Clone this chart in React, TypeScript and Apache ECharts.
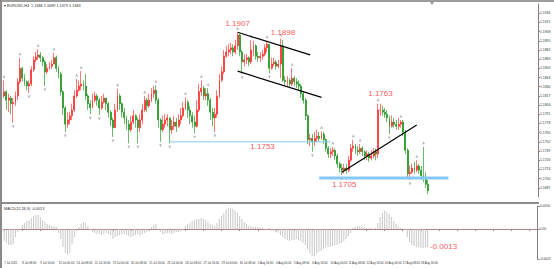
import React, { useEffect, useRef } from "react";
import * as echarts from "echarts";

// ---- price data (H4 candles), open of each bar = previous close ----
const firstOpen = 1.1817;
const closes = [
  1.1823,1.1811,1.1814,1.1806,1.1808,1.1817,1.1837,1.1856,1.1842,1.1837,
  1.1831,1.1834,1.1854,1.1868,1.1872,1.1875,1.1871,1.1865,1.1851,1.1856,
  1.1859,1.1862,1.1871,1.1856,1.1848,1.1823,1.1800,1.1777,1.1783,1.1789,
  1.1797,1.1817,1.1825,1.1831,1.1834,1.1831,1.1817,1.1806,1.1800,1.1811,
  1.1817,1.1811,1.1800,1.1808,1.1814,1.1806,1.1794,1.1783,1.1772,1.1797,
  1.1817,1.1806,1.1794,1.1786,1.1777,1.1769,1.1780,1.1789,1.1783,1.1772,
  1.1783,1.1797,1.1811,1.1803,1.1811,1.1820,1.1825,1.1811,1.1783,1.1769,
  1.1777,1.1783,1.1786,1.1769,1.1774,1.1780,1.1774,1.1783,1.1789,1.1800,
  1.1808,1.1797,1.1789,1.1780,1.1774,1.1797,1.1823,1.1828,1.1817,1.1820,
  1.1811,1.1794,1.1786,1.1791,1.1817,1.1839,1.1851,1.1873,1.1879,1.1882,
  1.1885,1.1879,1.1888,1.1903,1.1879,1.1865,1.1868,1.1871,1.1865,1.1882,
  1.1888,1.1873,1.1871,1.1873,1.1876,1.1885,1.1890,1.1856,1.1862,1.1865,
  1.1859,1.1862,1.1888,1.1839,1.1837,1.1839,1.1834,1.1842,1.1837,1.1834,
  1.1831,1.1820,1.1811,1.1789,1.1755,1.1757,1.1752,1.1757,1.1760,1.1757,
  1.1763,1.1755,1.1743,1.1735,1.1738,1.1740,1.1732,1.1721,1.1715,1.1712,
  1.1715,1.1712,1.1726,1.1743,1.1746,1.1740,1.1738,1.1743,1.1738,1.1732,
  1.1735,1.1729,1.1732,1.1738,1.1735,1.1797,1.1797,1.1794,1.1791,1.1786,
  1.1774,1.1780,1.1777,1.1774,1.1777,1.1780,1.1766,1.1740,1.1707,1.1709,
  1.1715,1.1712,1.1718,1.1712,1.1704,1.1701,1.1692,1.1683,
];
const highs = [
  1.1839,1.1825,1.1820,1.1817,1.1814,1.1823,1.1842,1.1871,1.1858,1.1848,
  1.1839,1.1839,1.1859,1.1873,1.1879,1.1883,1.1879,1.1873,1.1868,1.1862,
  1.1865,1.1868,1.1878,1.1874,1.1859,1.1851,1.1825,1.1803,1.1794,1.1794,
  1.1806,1.1825,1.1841,1.1839,1.1852,1.1839,1.1848,1.1820,1.1811,1.1820,
  1.1823,1.1820,1.1814,1.1817,1.1820,1.1814,1.1808,1.1797,1.1786,1.1806,
  1.1827,1.1820,1.1808,1.1800,1.1789,1.1783,1.1789,1.1797,1.1791,1.1786,
  1.1791,1.1806,1.1817,1.1814,1.1820,1.1828,1.1831,1.1832,1.1814,1.1786,
  1.1789,1.1791,1.1791,1.1786,1.1783,1.1789,1.1786,1.1791,1.1800,1.1808,
  1.1815,1.1811,1.1803,1.1794,1.1789,1.1811,1.1834,1.1839,1.1831,1.1828,
  1.1828,1.1814,1.1800,1.1800,1.1825,1.1848,1.1859,1.1882,1.1888,1.1890,
  1.1892,1.1890,1.1896,1.1907,1.1905,1.1882,1.1876,1.1876,1.1873,1.1896,
  1.1895,1.1890,1.1879,1.1879,1.1882,1.1890,1.1895,1.1890,1.1871,1.1871,
  1.1868,1.1868,1.1898,1.1896,1.1845,1.1845,1.1842,1.1856,1.1845,1.1842,
  1.1839,1.1834,1.1823,1.1814,1.1791,1.1763,1.1763,1.1766,1.1769,1.1766,
  1.1767,1.1766,1.1757,1.1746,1.1743,1.1745,1.1743,1.1735,1.1724,1.1721,
  1.1721,1.1721,1.1732,1.1749,1.1755,1.1749,1.1746,1.1749,1.1746,1.1740,
  1.1740,1.1738,1.1740,1.1743,1.1743,1.1806,1.1806,1.1803,1.1800,1.1797,
  1.1789,1.1789,1.1786,1.1783,1.1786,1.1783,1.1783,1.1769,1.1743,1.1718,
  1.1721,1.1724,1.1726,1.1721,1.1718,1.1745,1.1709,1.1698,
];
const lows = [
  1.1814,1.1797,1.1794,1.1791,1.1779,1.1803,1.1811,1.1834,1.1837,1.1831,
  1.1825,1.1821,1.1831,1.1851,1.1865,1.1868,1.1865,1.1859,1.1831,1.1848,
  1.1854,1.1855,1.1862,1.1851,1.1842,1.1817,1.1790,1.1766,1.1772,1.1777,
  1.1783,1.1794,1.1814,1.1823,1.1825,1.1825,1.1811,1.1797,1.1791,1.1800,
  1.1808,1.1803,1.1790,1.1797,1.1806,1.1797,1.1786,1.1774,1.1759,1.1772,
  1.1794,1.1797,1.1786,1.1777,1.1769,1.1750,1.1766,1.1777,1.1772,1.1750,
  1.1766,1.1777,1.1794,1.1794,1.1800,1.1808,1.1814,1.1806,1.1772,1.1752,
  1.1766,1.1772,1.1774,1.1750,1.1763,1.1769,1.1766,1.1772,1.1777,1.1786,
  1.1797,1.1786,1.1777,1.1772,1.1764,1.1772,1.1794,1.1817,1.1811,1.1811,
  1.1803,1.1783,1.1774,1.1766,1.1786,1.1814,1.1837,1.1848,1.1871,1.1873,
  1.1876,1.1873,1.1876,1.1882,1.1873,1.1848,1.1859,1.1862,1.1859,1.1862,
  1.1873,1.1868,1.1865,1.1865,1.1868,1.1873,1.1879,1.1849,1.1854,1.1859,
  1.1854,1.1856,1.1842,1.1837,1.1831,1.1831,1.1828,1.1831,1.1831,1.1828,
  1.1825,1.1814,1.1806,1.1783,1.1749,1.1746,1.1738,1.1746,1.1752,1.1752,
  1.1755,1.1749,1.1738,1.1729,1.1729,1.1732,1.1726,1.1715,1.1709,1.1705,
  1.1707,1.1707,1.1709,1.1724,1.1738,1.1735,1.1732,1.1735,1.1732,1.1726,
  1.1726,1.1724,1.1726,1.1729,1.1726,1.1729,1.1789,1.1789,1.1786,1.1780,
  1.1763,1.1772,1.1772,1.1769,1.1769,1.1772,1.1760,1.1735,1.1701,1.1698,
  1.1707,1.1707,1.1709,1.1707,1.1698,1.1695,1.1687,1.1678,
];

// ---- oscillator histogram (MACD) ----
const osma = [
  -0.00084,-0.00098,-0.00112,-0.00112,-0.00105,-0.00056,-0.00021,0,
  0.00028,0.00042,0.00056,0.00063,0.00077,0.00091,0.00098,0.00098,0.00084,
  0.00063,0.00049,0.00035,0.00028,0.00021,0.00021,0.00014,-0.00028,-0.0007,
  -0.00126,-0.00168,-0.00182,-0.00168,-0.00105,-0.00056,-0.00014,0.00014,
  0.00035,0.00049,0.00042,0.00021,-0.00007,
  -0.00021,-0.00028,-0.00035,-0.00035,-0.00042,-0.00035,-0.00028,-0.00035,-0.00042,
  -0.0007,-0.00056,
  -0.00049,-0.00042,-0.00035,-0.00035,-0.00042,-0.00049,-0.00056,-0.00049,-0.00042,-0.00035,-0.00042,-0.00035,-0.00028,-0.00021,-0.00014,
  0.00014,0.00028,0.00035,
  -0.00007,-0.00021,-0.00035,-0.00035,-0.00028,-0.00028,-0.00035,-0.00028,-0.00021,-0.00021,-0.00014,-0.00007,
  0.00021,0.00035,0.00042,0.00056,0.00063,0.0007,0.0007,
  0.00077,0.0007,0.00063,0.00049,0.00035,0.00028,0.00021,
  0.00042,0.0007,0.00091,0.00112,0.00133,0.00147,0.00147,0.0014,0.00126,0.00112,
  0.00091,0.0007,0.00049,0.00035,0.00021,0.00021,
  0.00014,0.00014,0.00014,0.00007,0.00007,0,
  -0.00007,0.00007,-0.00014,-0.00014,-0.00021,
  -0.00028,-0.00042,-0.00056,-0.0007,-0.00077,
  -0.00084,-0.00077,-0.00077,-0.0007,-0.00077,
  -0.00084,-0.00098,-0.00112,-0.0014,-0.00168,-0.00189,-0.00189,
  -0.00175,-0.00161,-0.00154,-0.0014,-0.00133,-0.00126,
  -0.00126,-0.00119,-0.00112,-0.00112,-0.00105,
  -0.00098,-0.00084,-0.0007,-0.00049,-0.00028,
  0.00007,0.00014,0.00021,0.00021,0.00014,0.00014,
  0.00007,0.00007,0.00007,0,0.00007,
  0.00042,0.00084,0.00112,0.00126,0.00119,0.00105,
  0.00084,0.00056,0.00035,0.00021,0.00007,0,-0.00007,
  -0.00056,-0.00091,-0.00112,-0.00119,-0.00126,-0.00126,-0.00133,-0.00133,-0.00126,-0.00126,
];

// bar indices of fractal marks
const fractalUp = [0,7,15,22,32,34,50,62,67,80,87,90,103,109,116,122,127,140,145,154,157,165,175,182,185];
const fractalDown = [4,11,18,27,38,42,48,55,59,69,73,84,93,105,117,136,149,170,179];

const xTickLabels = [
  "7 Jul 2021","8 Jul 08:00","9 Jul 16:00","13 Jul 00:00","14 Jul 08:00","15 Jul 16:00",
  "19 Jul 00:00","20 Jul 08:00","21 Jul 16:00","23 Jul 00:00","26 Jul 08:00","27 Jul 16:00",
  "29 Jul 00:00","30 Jul 08:00","2 Aug 16:00","4 Aug 00:00","5 Aug 08:00","6 Aug 16:00",
  "10 Aug 00:00","11 Aug 08:00","12 Aug 16:00","16 Aug 00:00","17 Aug 08:00","18 Aug 16:00",
];
const totalSlots = 236; // bars + empty right shift
const priceMin = 1.1674;
const priceMax = 1.1947;
const priceStep = 0.0013;
const oscMin = -0.0021;
const oscMax = 0.0016;
const oscLabels = [-0.0021, 0, 0.0016];

// drawn objects: [barIndex, price]
const channelTop = [[103, 1.1907], [135, 1.1875]];
const channelBottom = [[103, 1.1852], [140, 1.1815]];
const supportLine = [[149, 1.1709], [182, 1.1776]];
const level1753 = [[73, 1.1752], [144, 1.1752]];
const level1705 = [[139, 1.1701], [196, 1.1701]];

const annIdx = [103, 123, 166, 114, 150];
const annPrice = [1.1919, 1.1906, 1.182, 1.1745, 1.1691];
const annText = ["1.1907", "1.1898", "1.1763", "1.1753", "1.1705"];
const oscAnnIdx = [194];
const oscAnnValue = [-0.00126];
const oscAnnText = ["-0.0013"];

const FONT = "'Liberation Sans', Arial, sans-serif";

function buildOption() {
  const cats = Array.from({ length: totalSlots }, (_, i) => String(i));
  const candles = closes.map((c, i) => {
    const o = i === 0 ? firstOpen : closes[i - 1];
    return [o, c, Math.min(lows[i], o, c), Math.max(highs[i], o, c)];
  });
  const lastClose = closes[closes.length - 1];
  const line = (data: number[][], color: string, width: number) => ({
    type: "line",
    xAxisIndex: 0,
    yAxisIndex: 0,
    data,
    showSymbol: false,
    symbol: "none",
    silent: true,
    lineStyle: { color, width },
    z: 5,
  });
  return {
    animation: false,
    backgroundColor: "#ffffff",
    textStyle: { fontFamily: FONT },
    grid: [
      { left: 3, right: 16, top: 4, height: 193 },
      { left: 3, right: 16, top: 206, height: 53 },
    ],
    xAxis: [
      {
        type: "category", gridIndex: 0, data: cats, boundaryGap: true,
        axisLine: { show: false }, axisTick: { show: false }, axisLabel: { show: false },
        splitLine: { show: false },
      },
      {
        type: "category", gridIndex: 1, data: cats, boundaryGap: true,
        axisLine: { show: true, lineStyle: { color: "#808080", width: 1 } },
        axisTick: { show: true, interval: 7, alignWithLabel: true, length: 2, lineStyle: { color: "#808080" } },
        axisLabel: {
          interval: 7, fontSize: 2.9, color: "#333", align: "left", margin: 2, fontFamily: FONT,
          formatter: (_v: string, idx: number) => xTickLabels[idx / 8] ?? "",
        },
        splitLine: { show: false },
      },
    ],
    yAxis: [
      {
        type: "value", gridIndex: 0, position: "right", min: priceMin, max: priceMax, interval: priceStep,
        axisLine: { show: true, lineStyle: { color: "#808080", width: 1 } },
        axisTick: { show: true, length: 2, lineStyle: { color: "#808080" } },
        axisLabel: {
          fontSize: 3.4, color: "#333", margin: 2, fontFamily: FONT,
          showMinLabel: false, showMaxLabel: false,
          formatter: (v: number) => v.toFixed(4),
        },
        splitLine: { show: false },
      },
      {
        type: "value", gridIndex: 1, position: "right", min: oscMin, max: oscMax,
        axisLine: { show: true, lineStyle: { color: "#808080", width: 1 } },
        axisTick: { show: true, length: 2, customValues: oscLabels, lineStyle: { color: "#808080" } },
        axisLabel: {
          fontSize: 3.4, color: "#333", margin: 2, fontFamily: FONT, customValues: oscLabels,
          formatter: (v: number) => (v === 0 ? "0.00" : v.toFixed(4)),
        },
        splitLine: { show: false },
      },
    ],
    series: [
      {
        type: "candlestick",
        xAxisIndex: 0, yAxisIndex: 0,
        data: candles,
        barWidth: 1.4,
        itemStyle: {
          color: "#ff1a1a", color0: "#0a8a0a",
          borderColor: "#ff1a1a", borderColor0: "#0a8a0a", borderWidth: 0.6,
        },
        markLine: {
          silent: true, symbol: "none",
          data: [{ yAxis: lastClose }],
          lineStyle: { opacity: 0 },
          label: {
            show: true, position: "end", distance: 1,
            formatter: lastClose.toFixed(4),
            backgroundColor: "#000", color: "#fff", fontSize: 3.4, padding: [1, 2], fontFamily: FONT,
          },
        },
      },
      {
        type: "scatter", xAxisIndex: 0, yAxisIndex: 0, silent: true,
        data: fractalUp.map((i) => [i, highs[i]]),
        symbol: "triangle", symbolSize: [3, 3], symbolOffset: [0, -4],
        itemStyle: { color: "#a8a8a8" },
      },
      {
        type: "scatter", xAxisIndex: 0, yAxisIndex: 0, silent: true,
        data: fractalDown.map((i) => [i, lows[i]]),
        symbol: "triangle", symbolRotate: 180, symbolSize: [3, 3], symbolOffset: [0, 4],
        itemStyle: { color: "#a8a8a8" },
      },
      line(level1753, "#86c8f5", 1),
      line(level1705, "#86c8f5", 3),
      line(channelTop, "#000000", 1.2),
      line(channelBottom, "#000000", 1.2),
      line(supportLine, "#000000", 1.2),
      {
        type: "scatter", xAxisIndex: 0, yAxisIndex: 0, silent: true, z: 10,
        data: annIdx.map((i, k) => [i, annPrice[k]]),
        symbolSize: 1, itemStyle: { color: "rgba(0,0,0,0)" },
        label: {
          show: true, position: "inside", color: "#ff2a2a", fontSize: 8, fontFamily: FONT,
          formatter: (p: any) => annText[p.dataIndex],
        },
      },
      {
        type: "bar", xAxisIndex: 1, yAxisIndex: 1, silent: true,
        data: osma, barWidth: 1,
        itemStyle: { color: "#c8c8c8" },
        markLine: {
          silent: true, symbol: "none", data: [{ yAxis: 0 }],
          lineStyle: { color: "#f08a8a", type: "dotted", width: 0.8 },
          label: { show: false },
        },
      },
      {
        type: "scatter", xAxisIndex: 1, yAxisIndex: 1, silent: true, z: 10,
        data: oscAnnIdx.map((i, k) => [i, oscAnnValue[k]]),
        symbolSize: 1, itemStyle: { color: "rgba(0,0,0,0)" },
        label: {
          show: true, position: "inside", color: "#ff2a2a", fontSize: 8, fontFamily: FONT,
          formatter: (p: any) => oscAnnText[p.dataIndex],
        },
      },
    ],
    graphic: [
      { type: "rect", left: 0, top: 0, shape: { width: 554, height: 2 }, style: { fill: "#9c9c9c" }, silent: true },
      { type: "rect", left: 0, top: 0, shape: { width: 2, height: 268 }, style: { fill: "#8a8a8a" }, silent: true },
      { type: "rect", left: 2, top: 202, shape: { width: 537, height: 2 }, style: { fill: "#8c8c8c" }, silent: true },
      { type: "polygon", shape: { points: [[430, 2], [434, 2], [432, 5]] }, style: { fill: "#999" }, silent: true },
      {
        type: "text", left: 4, top: 4, silent: true,
        style: { text: "▾ EURUSD,H4  1.1686 1.1689 1.1679 1.1683", fontSize: 3.8, fill: "#333", fontFamily: FONT },
      },
      {
        type: "text", left: 4, top: 207, silent: true,
        style: { text: "MACD(12,26,9) -0.0013", fontSize: 3.8, fill: "#333", fontFamily: FONT },
      },
    ],
  };
}

export default function App() {
  const ref = useRef<HTMLDivElement>(null);
  useEffect(() => {
    if (!ref.current) return;
    const chart = echarts.init(ref.current, null, { renderer: "svg" });
    chart.setOption(buildOption() as any);
    return () => chart.dispose();
  }, []);
  return (
    <div
      ref={ref}
      style={{ position: "fixed", left: 0, top: 0, width: 554, height: 268, background: "#fff" }}
    />
  );
}
